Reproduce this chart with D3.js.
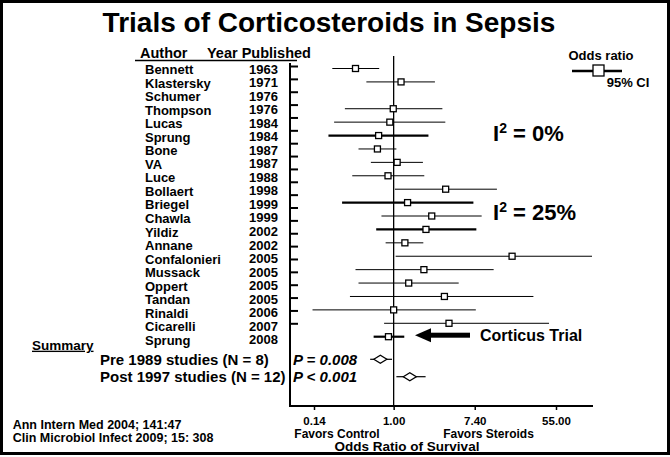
<!DOCTYPE html>
<html><head><meta charset="utf-8">
<script src="https://cdn.jsdelivr.net/npm/d3@7"></script>
<style>body{margin:0;background:#fff}</style>
</head><body>
<script>
// ---- data ----
const studies = ["Bennett","Klastersky","Schumer","Thompson","Lucas","Sprung","Bone","VA","Luce","Bollaert","Briegel","Chawla","Yildiz","Annane","Confalonieri","Mussack","Oppert","Tandan","Rinaldi","Cicarelli","Sprung"];
const years = ["1963","1971","1976","1976","1984","1984","1987","1987","1988","1998","1999","1999","2002","2002","2005","2005","2005","2005","2006","2007","2008"];
const oddsRatio = [0.39,1.20,null,0.99,0.91,0.69,0.67,1.09,0.87,3.61,1.41,2.56,2.22,1.32,18.6,2.11,1.45,3.5,1.0,3.92,0.88];
const ciLow =     [0.22,0.51,null,0.30,0.23,0.20,0.42,0.57,0.36,1.03,0.28,0.74,0.65,0.82,1.05,0.39,0.42,0.34,0.135,0.79,0.61];
const ciHigh =    [0.70,2.77,null,3.33,3.58,2.36,1.07,2.06,2.13,12.8,7.16,8.78,7.7,2.08,140,11.8,4.98,31.5,7.6,46.3,1.30];
const summaryLabels = ["Pre 1989 studies (N = 8)","Post 1997 studies (N = 12)"];
const summaryP = ["P = 0.008","P < 0.001"];
const summaryOR = [0.72,1.49];
const summaryLow = [0.56,1.07];
const summaryHigh = [0.96,2.2];
const xTicks = [0.14,1.00,7.40,55.00];
const heterogeneity = ["0%","25%"];

// ---- layout ----
const W=670,H=457;
const plotLeft=290, plotRight=593, plotTop=63, plotBottom=406;
const thickRows = new Set([5,10,12,20]);
const svg=d3.select("body").append("svg").attr("width",W).attr("height",H)
  .style("font-family","'Liberation Sans', Arial, sans-serif").style("font-weight","bold");
svg.append("rect").attr("width",W).attr("height",H).attr("fill","#fff");
svg.append("rect").attr("x",1.5).attr("y",1.5).attr("width",667).attr("height",452)
  .attr("fill","none").attr("stroke","#000").attr("stroke-width",3);

svg.append("text").attr("x",329).attr("y",32).attr("text-anchor","middle")
  .attr("font-size",28).text("Trials of Corticosteroids in Sepsis");

svg.append("text").attr("x",140).attr("y",58).attr("font-size",14.5).text("Author");
svg.append("text").attr("x",207).attr("y",58).attr("font-size",14.5).text("Year Published");
svg.append("line").attr("x1",135).attr("x2",297).attr("y1",60.5).attr("y2",60.5)
  .attr("stroke","#000").attr("stroke-width",1.5);

const x = d3.scaleLog().domain([0.14,55]).range([314,556]);
const idx = d3.range(studies.length);
const row = d3.scalePoint().domain(idx).range([68.5,336.7]);
const labelRow = d3.scalePoint().domain(idx).range([69.5,340]);
const tickRow = d3.scalePoint().domain(idx).range([66,323.3]);

// labels
svg.append("g").selectAll("text").data(idx).join("text")
  .attr("x",145).attr("y",i=>labelRow(i)+4.7).attr("font-size",13).text(i=>studies[i]);
svg.append("g").selectAll("text").data(idx).join("text")
  .attr("x",278).attr("y",i=>labelRow(i)+4.2).attr("text-anchor","end").attr("font-size",13).text(i=>years[i]);

// y axis ticks
const ya = svg.append("g").attr("transform",`translate(${plotLeft},0)`)
  .call(d3.axisRight(tickRow).tickSize(8).tickFormat(""));
ya.select(".domain").remove();
ya.selectAll("line").attr("stroke","#000").attr("stroke-width",2);

// frame lines
svg.append("line").attr("x1",plotLeft).attr("x2",plotLeft).attr("y1",plotTop).attr("y2",plotBottom+1)
  .attr("stroke","#000").attr("stroke-width",2);
svg.append("line").attr("x1",plotLeft-1).attr("x2",plotRight).attr("y1",plotBottom).attr("y2",plotBottom)
  .attr("stroke","#000").attr("stroke-width",2);
// reference line
svg.append("line").attr("x1",x(1)).attr("x2",x(1)).attr("y1",56).attr("y2",plotBottom)
  .attr("stroke","#000").attr("stroke-width",1.3);

// study CIs
const valid = idx.filter(i=>oddsRatio[i]!=null);
svg.append("g").selectAll("line").data(valid).join("line")
  .attr("x1",i=>Math.max(x(ciLow[i]),plotLeft)).attr("x2",i=>Math.min(x(ciHigh[i]),plotRight-1))
  .attr("y1",i=>row(i)).attr("y2",i=>row(i))
  .attr("stroke","#000").attr("stroke-width",i=>thickRows.has(i)?2.2:1);
svg.append("g").selectAll("rect").data(valid).join("rect")
  .attr("x",i=>x(oddsRatio[i])-3).attr("y",i=>row(i)-3).attr("width",6).attr("height",6)
  .attr("fill","#fff").attr("stroke","#000").attr("stroke-width",1.3);

// summary
svg.append("text").attr("x",32).attr("y",349.7).attr("font-size",13.5)
  .attr("text-decoration","underline").text("Summary");
const sIdx=[0,1];
const sRow = d3.scalePoint().domain(sIdx).range([359.3,376.7]);
svg.append("g").selectAll("text").data(sIdx).join("text")
  .attr("x",100).attr("y",i=>sRow(i)+5.3).attr("font-size",15).text(i=>summaryLabels[i]);
svg.append("g").selectAll("text").data(sIdx).join("text")
  .attr("x",293).attr("y",i=>sRow(i)+5.3).attr("font-size",15).attr("font-style","italic").text(i=>summaryP[i]);
svg.append("g").selectAll("line").data(sIdx).join("line")
  .attr("x1",i=>x(summaryLow[i])).attr("x2",i=>x(summaryHigh[i]))
  .attr("y1",i=>sRow(i)).attr("y2",i=>sRow(i)).attr("stroke","#000").attr("stroke-width",1.2);
svg.append("g").selectAll("path").data(sIdx).join("path")
  .attr("d",i=>{const cx=x(summaryOR[i]),cy=sRow(i);return `M${cx-6.5},${cy}L${cx},${cy-4}L${cx+6.5},${cy}L${cx},${cy+4}Z`;})
  .attr("fill","#fff").attr("stroke","#000").attr("stroke-width",1.3);

// x axis
const xa = svg.append("g").attr("transform",`translate(0,${plotBottom})`)
  .call(d3.axisBottom(x).tickValues(xTicks).tickFormat(d3.format(".2f")).tickSize(4).tickPadding(7));
xa.select(".domain").remove();
xa.selectAll("line").attr("stroke","#000").attr("stroke-width",1.5);
xa.selectAll("text").attr("font-size",11.5).attr("font-family","'Liberation Sans', Arial, sans-serif")
  .attr("font-weight","bold").attr("fill","#000");
svg.append("text").attr("x",337).attr("y",437.5).attr("text-anchor","middle").attr("font-size",12).text("Favors Control");
svg.append("text").attr("x",488.5).attr("y",437.5).attr("text-anchor","middle").attr("font-size",12).text("Favors Steroids");
svg.append("text").attr("x",407).attr("y",451).attr("text-anchor","middle").attr("font-size",13.5).text("Odds Ratio of Survival");

// citations
svg.append("text").attr("x",12.7).attr("y",428.5).attr("font-size",12.5).text("Ann Intern Med 2004; 141:47");
svg.append("text").attr("x",12.7).attr("y",442).attr("font-size",12.5).text("Clin Microbiol Infect 2009; 15: 308");

// legend
svg.append("text").attr("x",601).attr("y",59.5).attr("text-anchor","middle").attr("font-size",13).text("Odds ratio");
svg.append("line").attr("x1",572).attr("x2",622).attr("y1",71).attr("y2",71).attr("stroke","#000").attr("stroke-width",2.5);
svg.append("rect").attr("x",593).attr("y",65).attr("width",11).attr("height",11)
  .attr("fill","#fff").attr("stroke","#000").attr("stroke-width",1.3);
svg.append("text").attr("x",606.7).attr("y",87).attr("font-size",13).text("95% CI");

// heterogeneity
const hY=[140.7,220];
heterogeneity.forEach((h,k)=>{
  const t=svg.append("text").attr("x",493).attr("y",hY[k]).attr("font-size",22);
  t.append("tspan").text("I");
  t.append("tspan").attr("dy",-8).attr("font-size",14).text("2");
  t.append("tspan").attr("dy",8).text(" = "+h);
});

// Corticus arrow
const ay=row(20)-1.5;
svg.append("path").attr("d",`M415,${ay}L431,${ay-7}L431,${ay+7}Z`).attr("fill","#000");
svg.append("rect").attr("x",429).attr("y",ay-2.5).attr("width",41).attr("height",5).attr("fill","#000");
svg.append("text").attr("x",480).attr("y",ay+5.5).attr("font-size",16).text("Corticus Trial");
</script>
</body></html>
